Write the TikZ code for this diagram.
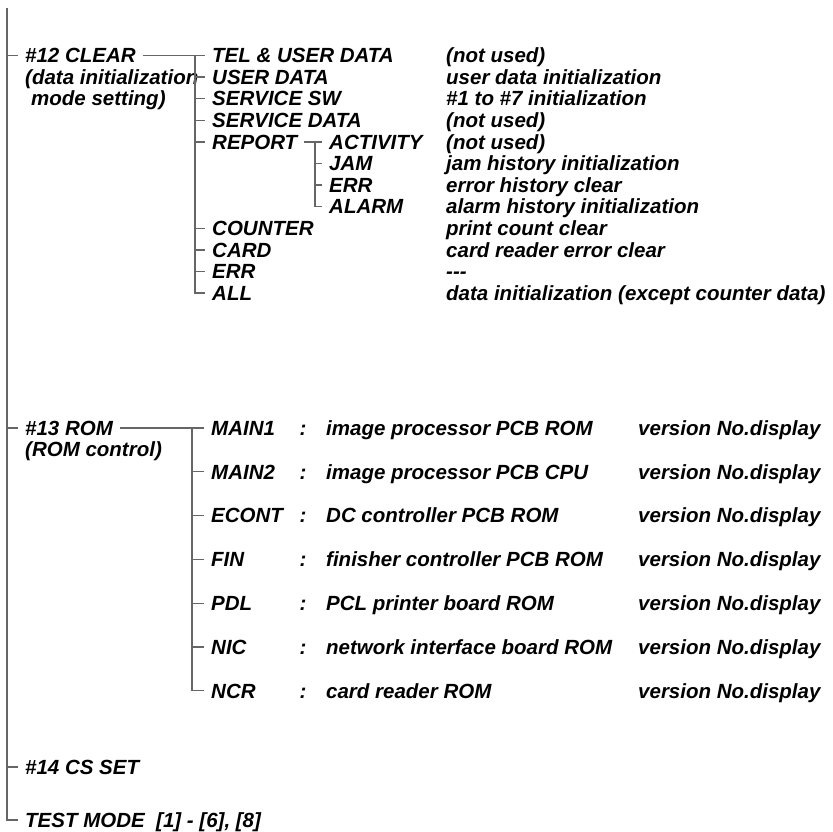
\documentclass[tikz,border=0pt]{standalone}
\usepackage{fontspec}
\setmainfont{Liberation Sans}
\usepackage{tikz}

\begin{document}
\begin{tikzpicture}[x=1pt,y=-1pt,
  tree/.style={draw=black!60,line width=1.3pt},
  lbl/.style={anchor=west,inner xsep=7pt,inner ysep=0pt,text height=14.5pt,text depth=0pt,
    font=\fontsize{20.5}{22}\selectfont\bfseries\itshape}]
  \useasboundingbox (0,0) rectangle (833,832);
  \coordinate (t1) at (7,8);

  % first level
  \node[lbl] (c12) at (18,55.5) {\#12 CLEAR};
  \node[lbl] (c12a) at (18,77.1) {(data initialization};
  \node[lbl] (c12b) at (24,98.7) {mode setting)};
  \node[lbl] (c13) at (18,428) {\#13 ROM};
  \node[lbl] (c13a) at (18,449) {(ROM control)};
  \node[lbl] (c14) at (18,767) {\#14 CS SET};
  \node[lbl] (test) at (18,820) {TEST MODE\ \ [1] - [6], [8]};

  % #12 CLEAR
  \coordinate (t2) at (195,55.5);
  \node[lbl] (tel) at (205,55.5) {TEL \& USER DATA};
  \node[lbl] (user) at (205,77.1) {USER DATA};
  \node[lbl] (sw) at (205,98.7) {SERVICE SW};
  \node[lbl] (sdata) at (205,120.3) {SERVICE DATA};
  \node[lbl] (report) at (205,141.9) {REPORT};
  \node[lbl] (counter) at (205,228.3) {COUNTER};
  \node[lbl] (card) at (205,249.9) {CARD};
  \node[lbl] (errb) at (205,271.5) {ERR};
  \node[lbl] (all) at (205,293.1) {ALL};

  \coordinate (t3) at (315,141.9);
  \node[lbl] (act) at (322,141.9) {ACTIVITY};
  \node[lbl] (jam) at (322,163.5) {JAM};
  \node[lbl] (err) at (322,185.1) {ERR};
  \node[lbl] (alarm) at (322,206.7) {ALARM};

  \node[lbl] (d-tel) at (439,55.5) {(not used)};
  \node[lbl] (d-user) at (439,77.1) {user data initialization};
  \node[lbl] (d-sw) at (439,98.7) {\#1 to \#7 initialization};
  \node[lbl] (d-sdata) at (439,120.3) {(not used)};
  \node[lbl] (d-act) at (439,141.9) {(not used)};
  \node[lbl] (d-jam) at (439,163.5) {jam history initialization};
  \node[lbl] (d-err) at (439,185.1) {error history clear};
  \node[lbl] (d-alarm) at (439,206.7) {alarm history initialization};
  \node[lbl] (d-counter) at (439,228.3) {print count clear};
  \node[lbl] (d-card) at (439,249.9) {card reader error clear};
  \node[lbl] (d-errb) at (439,271.5) {-{}-{}-};
  \node[lbl] (d-all) at (439,293.1) {data initialization (except counter data)};

  % #13 ROM
  \coordinate (t4) at (192,428);
  \node[lbl] (main1) at (204,428) {MAIN1};
  \node[lbl] (main2) at (204,471.8) {MAIN2};
  \node[lbl] (econt) at (204,515.6) {ECONT};
  \node[lbl] (fin) at (204,559.4) {FIN};
  \node[lbl] (pdl) at (204,603.2) {PDL};
  \node[lbl] (nic) at (204,647) {NIC};
  \node[lbl] (ncr) at (204,690.8) {NCR};

  \node[lbl,anchor=center] (c-main1) at (303,428) {:};
  \node[lbl,anchor=center] (c-main2) at (303,471.8) {:};
  \node[lbl,anchor=center] (c-econt) at (303,515.6) {:};
  \node[lbl,anchor=center] (c-fin) at (303,559.4) {:};
  \node[lbl,anchor=center] (c-pdl) at (303,603.2) {:};
  \node[lbl,anchor=center] (c-nic) at (303,647) {:};
  \node[lbl,anchor=center] (c-ncr) at (303,690.8) {:};

  \node[lbl] (d-main1) at (319,428) {image processor PCB ROM};
  \node[lbl] (d-main2) at (319,471.8) {image processor PCB CPU};
  \node[lbl] (d-econt) at (319,515.6) {DC controller PCB ROM};
  \node[lbl] (d-fin) at (319,559.4) {finisher controller PCB ROM};
  \node[lbl] (d-pdl) at (319,603.2) {PCL printer board ROM};
  \node[lbl] (d-nic) at (319,647) {network interface board ROM};
  \node[lbl] (d-ncr) at (319,690.8) {card reader ROM};

  \node[lbl] (v-main1) at (631,428) {version No.display};
  \node[lbl] (v-main2) at (631,471.8) {version No.display};
  \node[lbl] (v-econt) at (631,515.6) {version No.display};
  \node[lbl] (v-fin) at (631,559.4) {version No.display};
  \node[lbl] (v-pdl) at (631,603.2) {version No.display};
  \node[lbl] (v-nic) at (631,647) {version No.display};
  \node[lbl] (v-ncr) at (631,690.8) {version No.display};

  % tree lines
  \draw[tree] (t1) |- (test.west);
  \draw[tree] (t1 |- c12.west) -- (c12.west);
  \draw[tree] (t1 |- c13.west) -- (c13.west);
  \draw[tree] (t1 |- c14.west) -- (c14.west);

  \draw[tree] (c12) -- (tel);
  \draw[tree] (t2) |- (all.west);
  \draw[tree] (t2 |- user.west) -- (user.west);
  \draw[tree] (t2 |- sw.west) -- (sw.west);
  \draw[tree] (t2 |- sdata.west) -- (sdata.west);
  \draw[tree] (t2 |- report.west) -- (report.west);
  \draw[tree] (t2 |- counter.west) -- (counter.west);
  \draw[tree] (t2 |- card.west) -- (card.west);
  \draw[tree] (t2 |- errb.west) -- (errb.west);

  \draw[tree] (report) -- (act);
  \draw[tree] (t3) |- (alarm.west);
  \draw[tree] (t3 |- jam.west) -- (jam.west);
  \draw[tree] (t3 |- err.west) -- (err.west);

  \draw[tree] (c13) -- (main1);
  \draw[tree] (t4) |- (ncr.west);
  \draw[tree] (t4 |- main2.west) -- (main2.west);
  \draw[tree] (t4 |- econt.west) -- (econt.west);
  \draw[tree] (t4 |- fin.west) -- (fin.west);
  \draw[tree] (t4 |- pdl.west) -- (pdl.west);
  \draw[tree] (t4 |- nic.west) -- (nic.west);
\end{tikzpicture}
\end{document}
